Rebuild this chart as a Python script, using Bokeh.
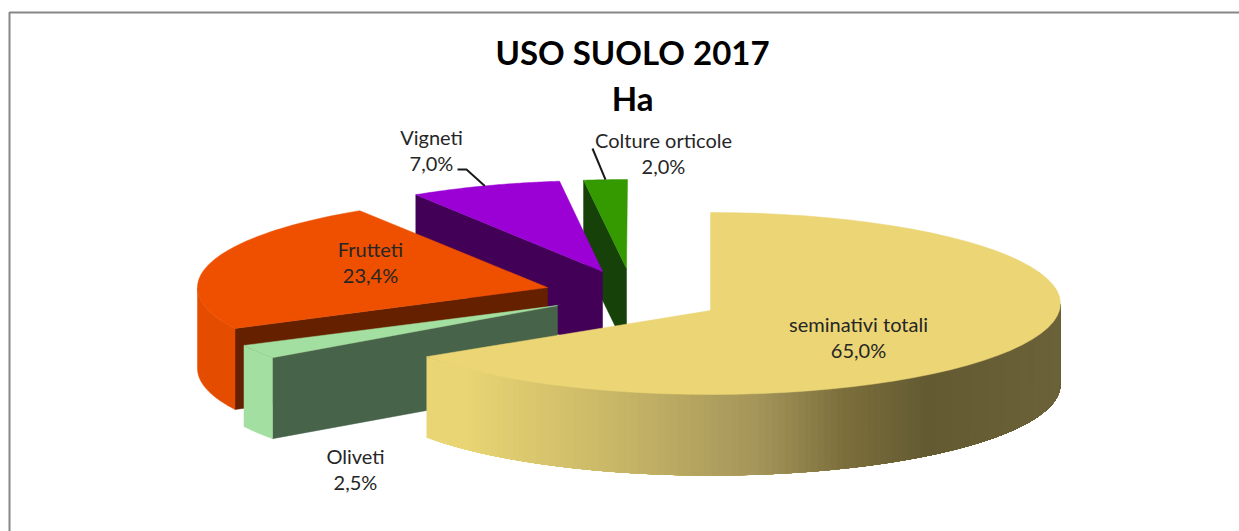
import math
from bokeh.plotting import figure
from bokeh.models import Range1d
from bokeh.embed import file_html
from bokeh.resources import INLINE
from bokeh.core.properties import value

# --- data ---
categories = ["seminativi totali", "Oliveti", "Frutteti", "Vigneti", "Colture orticole"]
shares = [65.0, 2.5, 23.4, 7.0, 2.0]
share_labels = ["65,0%", "2,5%", "23,4%", "7,0%", "2,0%"]
title_lines = ["USO SUOLO 2017", "Ha"]

# --- styles ---
top_colors = ["#ebd575", "#a3dfa0", "#ee5000", "#9b00d5", "#349a00"]
wall_colors = ["#ebd575", "#47634a", "#652000", "#420056", "#16420a"]
rim_colors = [None, "#a3dfa0", "#e44d00", "#9b00d5", "#349a00"]

# --- layout (image pixels) ---
WIDTH, HEIGHT = 1239, 531
RX, RY, DEPTH = 350, 91, 81
centres = [(710, 303), (556, 304), (547, 287), (603, 271), (627, 270)]
apexes = [(710, 310), (557, 305), (547, 287), (602, 271), (626, 268)]
label_pos = [(858, 323), (355, 455), (370, 248), (431, 136), (663, 139)]
label_gap = 26
label_size = "20px"
rim_stops = [(426, (0xe9, 0xd5, 0x74)), (462, (0xe9, 0xd5, 0x74)), (632, (0xc4, 0xb3, 0x65)),
             (758, (0xa4, 0x95, 0x5a)), (843, (0x7c, 0x6f, 0x3c)), (928, (0x63, 0x5a, 0x32)),
             (1060, (0x6c, 0x62, 0x39))]

total = sum(shares)
p = figure(width=WIDTH, height=HEIGHT, output_backend="svg", toolbar_location=None,
           x_range=Range1d(0, WIDTH), y_range=Range1d(HEIGHT, 0),
           min_border=0, background_fill_color="white", border_fill_color="white")
p.axis.visible = False
p.grid.visible = False
p.outline_line_color = None


def rim(i, theta):
    return (centres[i][0] + RX * math.sin(theta), centres[i][1] - RY * math.cos(theta))


def arc(i, a0, a1, n=60):
    return [rim(i, a0 + (a1 - a0) * k / n) for k in range(n + 1)]


def rim_color(x):
    for (x0, c0), (x1, c1) in zip(rim_stops, rim_stops[1:]):
        if x <= x1:
            t = max(0.0, (x - x0) / (x1 - x0))
            return "#%02x%02x%02x" % tuple(round(a + (b - a) * t) for a, b in zip(c0, c1))
    return "#%02x%02x%02x" % rim_stops[-1][1]


def poly(points, color, stroke=True):
    p.patch([q[0] for q in points], [q[1] for q in points], fill_color=color,
            line_color=color if stroke else None, line_width=0.5)


angles = []
acc = 0.0
for s in shares:
    a0 = acc / total * 2 * math.pi
    acc += s
    angles.append((a0, acc / total * 2 * math.pi))

# far slices first, nearest slice last
for i in [4, 3, 2, 1, 0]:
    a0, a1 = angles[i]
    ax, ay = apexes[i]
    if i != 0:
        cut = rim(i, a0)
        poly([(ax, ay), cut, (cut[0], cut[1] + DEPTH), (ax, ay + DEPTH)], wall_colors[i])
    if i == 0:
        # gradient: each strip runs on to the right end and is painted over by the next
        vis0 = math.pi / 2
        n = 130
        for k in range(n):
            t0 = a1 + (vis0 - a1) * k / n
            t1 = a1 + (vis0 - a1) * (k + 1) / n
            pts = arc(i, t0, vis0, 40)
            poly(pts + [(x, y + DEPTH) for x, y in reversed(pts)],
                 rim_color((rim(i, t0)[0] + rim(i, t1)[0]) / 2), stroke=False)
    elif i in (1, 2):
        hi = min(a1, 1.5 * math.pi)
        pts = arc(i, a0, hi)
        poly(pts + [(x, y + DEPTH) for x, y in reversed(pts)], rim_colors[i])
    poly([(ax, ay)] + arc(i, a0, a1), top_colors[i])

# labels with leader lines
for i, (x, y) in enumerate(label_pos):
    p.text([x], [y], text=[categories[i]], text_font=value("Lato"), text_font_size=label_size,
           text_color="#262626", text_align="center", text_baseline="middle")
    p.text([x], [y + label_gap], text=[share_labels[i]], text_font=value("Lato"), text_font_size=label_size,
           text_color="#262626", text_align="center", text_baseline="middle")

for i, start in [(3, [(457, 169), (466, 169)]), (4, [(592, 148)])]:
    end = rim(i, sum(angles[i]) / 2)
    pts = start + [end]
    p.line([q[0] for q in pts], [q[1] for q in pts], line_color="#1a1a1a", line_width=2)

# title
for line, y in zip(title_lines, [51, 97]):
    p.text([632], [y], text=[line], text_font=value("Lato"), text_font_size="33px",
           text_font_style="bold", text_color="black", text_align="center", text_baseline="middle")

# frame
p.line([9, 9, WIDTH], [HEIGHT, 12, 12], line_color="#868686", line_width=2)

open("out.html", "w").write(file_html(p, INLINE))
